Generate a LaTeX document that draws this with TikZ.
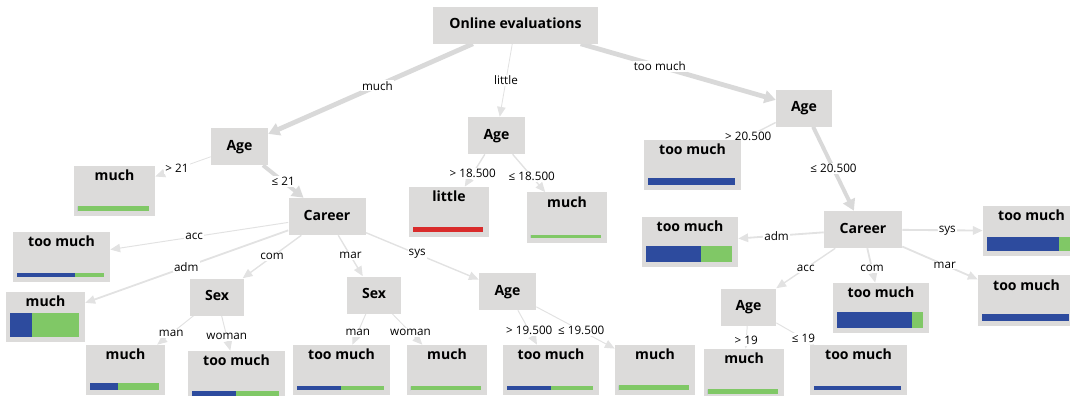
\documentclass[tikz,border=0pt]{standalone}
\usepackage{fontspec}
\setmainfont{Open Sans}
\usetikzlibrary{arrows.meta, backgrounds, calc}
\definecolor{colbox}{HTML}{DCDBDA}
\definecolor{colline}{HTML}{E2E2E2}
\definecolor{colmajor}{HTML}{D9D9D9}
\definecolor{colblue}{HTML}{2D4B9E}
\definecolor{colgreen}{HTML}{80C866}
\definecolor{colred}{HTML}{D92B2B}
\tikzset{
    tree node/.style={fill=colbox, font=\fontsize{10}{12}\selectfont\bfseries,
        inner sep=0pt},
    split/.style={tree node, minimum width=#1*0.025cm,
        minimum height=37*0.025cm, text height=7.5pt, text depth=2pt},
    leaf/.style={tree node, minimum width=#1*0.025cm,
        text height=9pt, text depth=23.6pt, inner ysep=1.5pt},
    leaf/.default=80,
    branch/.style={draw=colline, line width=#1,
        -{Triangle[length=7pt, width=6pt]}},
    branch/.default=0.8pt,
    major branch/.style={branch=3.4pt, draw=colmajor,
        -{Triangle[length=8pt, width=9pt]}},
    branch label/.style={font=\fontsize{8.3}{10}\selectfont, fill=white,
        inner sep=0.8pt},
}
% edge with its label at the middle of the centre line
\newcommand{\branch}[4][]{%
    \draw[branch, #1] (#2) -- (#3);
    \path (#2.center) -- node[branch label] (#3Lbl) {#4} (#3.center);
}
% class bar at the foot of a leaf: node, share of left colour, height (px)
\newcommand{\leafbar}[4][colblue]{%
    \coordinate (#2BarL) at ($(#2.south west)+(4,-5)$);
    \coordinate (#2BarR) at ($(#2.south east)+(-6,-5)$);
    \fill[colgreen] (#2BarL) rectangle ($(#2BarR)+(0,-#4)$);
    \fill[#1] (#2BarL) rectangle ($(#2BarL)!#3!(#2BarR)+(0,-#4)$);
}

\begin{document}
\begin{tikzpicture}[x=0.025cm, y=-0.025cm]

\useasboundingbox (0,0) rectangle (1070,395);

% ===== SPLITS =====
\node[split=165] (root) at (515.5,25) {Online evaluations};
\node[split=57] (ageL) at (239.5,146.5) {Age};
\node[split=57] (ageM) at (496.5,135.5) {Age};
\node[split=56] (ageR) at (804,108) {Age};
\node[split=77] (careerL) at (327,216.5) {Career};
\node[split=78] (careerR) at (863,229.5) {Career};
\node[split=54] (sexCom) at (217,297) {Sex};
\node[split=54] (sexMar) at (374,295) {Sex};
\node[split=57] (ageSys) at (507.5,291.5) {Age};
\node[split=55] (ageAcc) at (748.5,307) {Age};

% ===== LEAVES =====
\node[leaf=81] (muchGt21) at (114.5,191) {much};
\node[leaf=80] (littleGt185) at (449,212) {little};
\node[leaf=80] (muchLe185) at (567,217.5) {much};
\node[leaf=97] (tmGt205) at (692.5,165) {too much};
\node[leaf=97] (tmAcc) at (61.5,257) {too much};
\node[leaf=79] (muchAdm) at (45.5,317) {much};
\node[leaf=79] (muchMan) at (125.5,370) {much};
\node[leaf=97] (tmWoman) at (236.5,376) {too much};
\node[leaf=97] (tmMan) at (341.5,370) {too much};
\node[leaf=80] (muchWoman) at (447,370) {much};
\node[leaf=96] (tmGt195) at (551,370) {too much};
\node[leaf=80] (muchLe195) at (655,370) {much};
\node[leaf=96] (tmAdm) at (690,242) {too much};
\node[leaf=97] (tmSys) at (1031.5,231) {too much};
\node[leaf=96] (tmCom) at (881,308) {too much};
\node[leaf=97] (tmMar) at (1026.5,300.5) {too much};
\node[leaf=80] (muchGt19) at (744,374) {much};
\node[leaf=97] (tmLe19) at (858.5,370) {too much};

% ===== BARS =====
\leafbar{muchGt21}{0}{5}
\leafbar[colred]{littleGt185}{1}{5}
\leafbar{muchLe185}{0}{3}
\leafbar{tmGt205}{1}{7}
\leafbar{tmAcc}{0.67}{4}
\leafbar{muchAdm}{0.32}{24}
\leafbar{muchMan}{0.4}{7}
\leafbar{tmWoman}{0.5}{5}
\leafbar{tmMan}{0.5}{4}
\leafbar{muchWoman}{0}{4}
\leafbar{tmGt195}{0.51}{4}
\leafbar{muchLe195}{0}{5}
\leafbar{tmAdm}{0.64}{16}
\leafbar{tmSys}{0.83}{14}
\leafbar{tmCom}{0.87}{16}
\leafbar{tmMar}{1}{7}
\leafbar{muchGt19}{0}{5}
\leafbar{tmLe19}{1}{4}

% ===== EDGES =====
\begin{scope}[on background layer]
\branch[major branch]{root}{ageL}{much}
\branch[branch=0.6pt]{root}{ageM}{little}
\branch[major branch]{root}{ageR}{too much}
\branch[branch=0.6pt]{ageL}{muchGt21}{> 21}
\branch[major branch, line width=2.8pt]{ageL}{careerL}{≤ 21}
\branch[branch=1pt]{ageM}{littleGt185}{> 18.500}
\branch[branch=1pt]{ageM}{muchLe185}{≤ 18.500}
\branch[branch=1pt]{ageR}{tmGt205}{> 20.500}
\branch[major branch, line width=2.8pt]{ageR}{careerR}{≤ 20.500}
\branch[branch=0.7pt]{careerL}{tmAcc}{acc}
\branch[branch=1.3pt]{careerL}{muchAdm}{adm}
\branch[branch=1pt]{careerL}{sexCom}{com}
\branch[branch=1pt]{careerL}{sexMar}{mar}
\branch[branch=1pt]{careerL}{ageSys}{sys}
\branch[branch=0.7pt]{sexCom}{muchMan}{man}
\branch[branch=0.7pt]{sexCom}{tmWoman}{woman}
\branch[branch=0.7pt]{sexMar}{tmMan}{man}
\branch[branch=0.7pt]{sexMar}{muchWoman}{woman}
\branch[branch=0.7pt]{ageSys}{tmGt195}{> 19.500}
\branch[branch=0.7pt]{ageSys}{muchLe195}{≤ 19.500}
\branch[branch=1.3pt]{careerR}{tmAdm}{adm}
\branch[branch=1.3pt]{careerR}{tmSys}{sys}
\branch[branch=1pt]{careerR}{ageAcc}{acc}
\branch[branch=1.3pt]{careerR}{tmCom}{com}
\branch[branch=1.3pt]{careerR}{tmMar}{mar}
\branch[branch=0.7pt]{ageAcc}{muchGt19}{> 19}
\branch[branch=0.7pt]{ageAcc}{tmLe19}{≤ 19}
\end{scope}

\end{tikzpicture}
\end{document}
